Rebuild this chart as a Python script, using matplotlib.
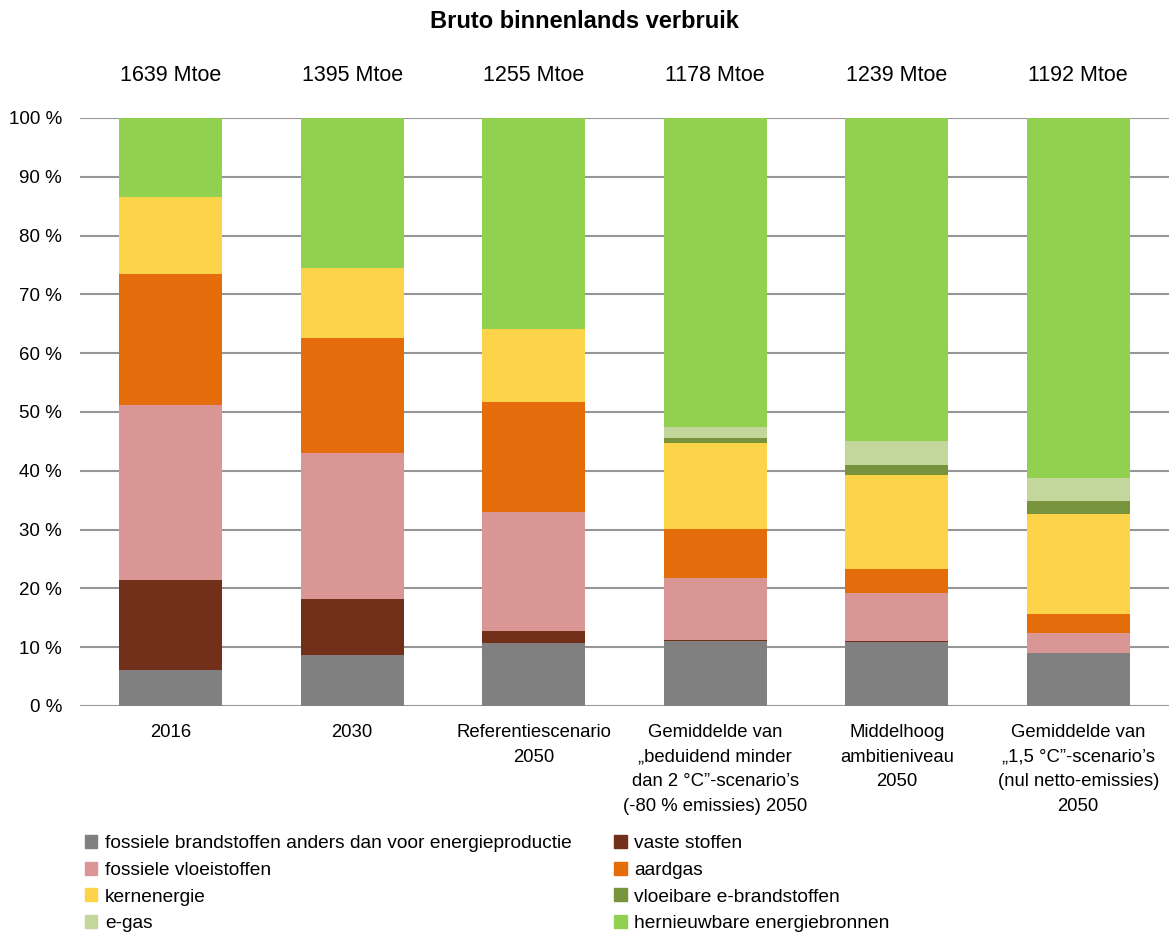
import numpy as np
import matplotlib
matplotlib.use('Agg')
import matplotlib.pyplot as plt
from matplotlib.patches import Patch

plt.rcParams['font.family'] = ['Liberation Sans', 'DejaVu Sans']

# Data (shares in %)
scenarios = ['2016', '2030', 'Referentiescenario\n2050',
             'Gemiddelde van\n\u201ebeduidend minder\ndan 2 \u00b0C\u201d-scenario\u2019s\n(-80 % emissies) 2050',
             'Middelhoog\nambitieniveau\n2050',
             'Gemiddelde van\n\u201e1,5 \u00b0C\u201d-scenario\u2019s\n(nul netto-emissies)\n2050']
totals = ['1639 Mtoe', '1395 Mtoe', '1255 Mtoe', '1178 Mtoe', '1239 Mtoe', '1192 Mtoe']

fossiel_overig = [6.1, 8.7, 10.7, 11.1, 10.8, 9.0]
vaste_stoffen = [15.3, 9.5, 2.1, 0.2, 0.25, 0.0]
fossiele_vloeistoffen = [29.8, 24.8, 20.2, 10.4, 8.15, 3.5]
aardgas = [22.3, 19.6, 18.7, 8.35, 4.15, 3.1]
kernenergie = [13.1, 11.9, 12.4, 14.65, 15.95, 17.1]
vloeibare_e = [0.0, 0.0, 0.0, 0.9, 1.7, 2.2]
e_gas = [0.0, 0.0, 0.0, 1.8, 4.1, 3.9]
hernieuwbaar = [13.4, 25.5, 35.9, 52.6, 54.9, 61.2]

series = [
    ('fossiele brandstoffen anders dan voor energieproductie', fossiel_overig, '#808080'),
    ('vaste stoffen', vaste_stoffen, '#722F1A'),
    ('fossiele vloeistoffen', fossiele_vloeistoffen, '#D99694'),
    ('aardgas', aardgas, '#E46C0A'),
    ('kernenergie', kernenergie, '#FDD34A'),
    ('vloeibare e-brandstoffen', vloeibare_e, '#77933C'),
    ('e-gas', e_gas, '#C3D69B'),
    ('hernieuwbare energiebronnen', hernieuwbaar, '#92D050'),
]

fig = plt.figure(figsize=(11.69, 9.35), dpi=100)
ax = fig.add_axes([80 / 1169, 1 - 706 / 935, 1089 / 1169, 588 / 935])

x = np.arange(len(scenarios))
bottom = np.zeros(len(scenarios))
for name, vals, color in series:
    ax.bar(x, vals, 0.565, bottom=bottom, color=color, zorder=3)
    bottom += np.array(vals)

ax.set_xlim(-0.5, 5.5)
ax.set_ylim(0, 100)
ax.set_yticks(range(0, 101, 10))
ax.set_yticklabels([f'{v} %' for v in range(0, 101, 10)], fontsize=13.5)
ax.yaxis.grid(True, color='#969696', linewidth=1.5, zorder=0)
ax.tick_params(axis='y', length=0, pad=13)
ax.tick_params(axis='x', length=0, pad=13)
ax.set_xticks(x)
ax.set_xticklabels(scenarios, fontsize=13.3, linespacing=1.58)
for s in ax.spines.values():
    s.set_visible(False)

for xi, t in zip(x, totals):
    ax.text(xi, 107.2, t, ha='center', va='center', fontsize=15.5)

fig.text(0.5, 1 - 21 / 935, 'Bruto binnenlands verbruik', ha='center', va='center',
         fontsize=17, fontweight='bold')

order = [0, 2, 4, 6, 1, 3, 5, 7]
handles = [Patch(color=series[i][2]) for i in order]
labels = [series[i][0] for i in order]
fig.legend(handles, labels, ncol=2, loc='upper left', bbox_to_anchor=(85 / 1169, 1 - 835 / 935),
           frameon=False, fontsize=13.8, handlelength=0.65, handleheight=0.65, handletextpad=0.4,
           columnspacing=2.2, labelspacing=0.5, borderaxespad=0, borderpad=0)

fig.savefig('out.png', dpi=100)
